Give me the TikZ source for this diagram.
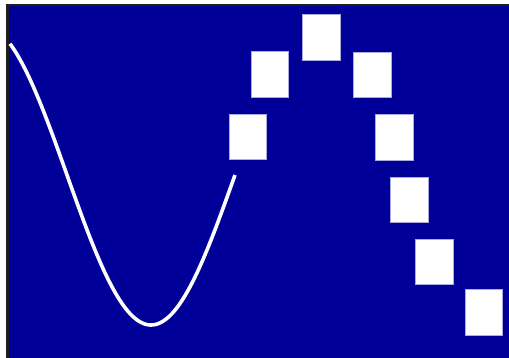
\documentclass[tikz,border=0pt]{standalone}
\begin{document}
\begin{tikzpicture}[x=1pt,y=-1pt,
  bg/.style={fill={rgb,255:red,0;green,0;blue,153}},
  frame/.style={draw={rgb,255:red,30;green,30;blue,30},line width=2.6pt},
  sq/.style={fill=white,draw={rgb,255:red,170;green,170;blue,225},line width=0.5pt,
    minimum width=37.5pt,minimum height=45.5pt,inner sep=0pt,outer sep=0pt},
  wave/.style={draw=white,line width=3.6pt}]
\useasboundingbox (0,0) rectangle (509,358);
\fill[white] (0,0) rectangle (509,358);
\path[bg] (7.5,5) rectangle (509,358);
\draw[frame] (7.5,358) -- (7.5,5) -- (509,5);
\draw[wave] plot[domain=10:235,samples=120,smooth] (\x,{175-150*cos((\x-319)*1.0714286)});
\node[sq] (s1) at (247.5,137) {};
\node[sq] (s2) at (269.5,74.5) {};
\node[sq] (s3) at (321,37.5) {};
\node[sq] (s4) at (372,75) {};
\node[sq] (s5) at (394,137.5) {};
\node[sq] (s6) at (409,200) {};
\node[sq] (s7) at (434,262) {};
\node[sq] (s8) at (483.5,312.5) {};
\end{tikzpicture}
\end{document}
